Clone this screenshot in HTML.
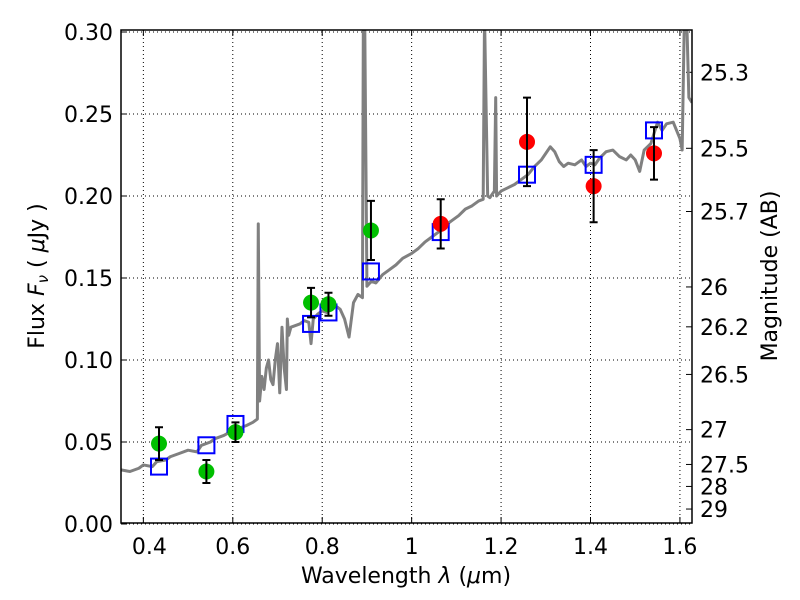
<!DOCTYPE html>
<html><head><meta charset="utf-8"><style>
body{margin:0;background:#fff;}
svg{display:block;font-family:"DejaVu Sans","Liberation Sans",sans-serif;}
</style></head><body>
<svg id="c" width="800" height="600"></svg>
<script>
const xTicks=[0.4,0.6,0.8,1.0,1.2,1.4,1.6];
const xTickLabels=["0.4","0.6","0.8","1","1.2","1.4","1.6"];
const yTicks=[0,0.05,0.1,0.15,0.2,0.25,0.3];
const yTickLabels=["0.00","0.05","0.10","0.15","0.20","0.25","0.30"];
const magTicks=[25.3,25.5,25.7,26,26.2,26.5,27,27.5,28,29];
const magLabels=["25.3","25.5","25.7","26","26.2","26.5","27","27.5","28","29"];
const obsWave=[0.435,0.541,0.606,0.775,0.814,0.909,1.065,1.258,1.407,1.542];
const obsFlux=[0.049,0.032,0.056,0.135,0.134,0.179,0.183,0.233,0.206,0.226];
const obsErr=[0.010,0.007,0.006,0.009,0.007,0.018,0.015,0.027,0.022,0.016];
const obsColor=["green","green","green","green","green","green","red","red","red","red"];
const modelFlux=[0.035,0.048,0.061,0.122,0.129,0.154,0.178,0.213,0.219,0.240];
const specWave=[0.35,0.37,0.39,0.4,0.42,0.43,0.45,0.46,0.48,0.5,0.52,0.53,0.55,0.56,0.58,0.6,0.62,0.63,0.645,0.655,0.657,0.66,0.665,0.67,0.675,0.68,0.685,0.69,0.695,0.7,0.705,0.71,0.715,0.72,0.722,0.725,0.73,0.74,0.75,0.76,0.77,0.775,0.78,0.79,0.8,0.81,0.82,0.83,0.84,0.85,0.86,0.87,0.88,0.89,0.892,0.895,0.9,0.91,0.92,0.935,0.95,0.965,0.98,1.0,1.015,1.03,1.045,1.06,1.075,1.09,1.105,1.12,1.135,1.15,1.16,1.163,1.17,1.175,1.185,1.188,1.19,1.2,1.215,1.23,1.245,1.26,1.275,1.29,1.3,1.31,1.32,1.33,1.34,1.35,1.365,1.38,1.39,1.4,1.41,1.42,1.435,1.45,1.465,1.48,1.49,1.5,1.51,1.52,1.535,1.55,1.56,1.57,1.585,1.6,1.605,1.61,1.615,1.62,1.627];
const specFlux=[0.033,0.032,0.034,0.036,0.035,0.038,0.039,0.041,0.043,0.045,0.044,0.048,0.050,0.052,0.054,0.057,0.059,0.060,0.062,0.064,0.183,0.075,0.09,0.082,0.095,0.10,0.088,0.085,0.10,0.11,0.08,0.12,0.095,0.082,0.125,0.115,0.12,0.121,0.122,0.124,0.123,0.110,0.125,0.128,0.130,0.129,0.134,0.133,0.131,0.125,0.114,0.135,0.14,0.138,0.31,0.31,0.145,0.148,0.147,0.152,0.155,0.158,0.162,0.165,0.168,0.172,0.175,0.178,0.182,0.185,0.188,0.192,0.194,0.197,0.198,0.31,0.20,0.199,0.203,0.26,0.2,0.203,0.205,0.207,0.210,0.213,0.218,0.222,0.226,0.230,0.227,0.221,0.218,0.220,0.219,0.222,0.218,0.220,0.219,0.223,0.227,0.228,0.224,0.222,0.225,0.222,0.215,0.228,0.232,0.245,0.24,0.244,0.245,0.235,0.228,0.31,0.31,0.26,0.257];
const L=121,R=692,T=30,B=523;
const x0=0.35,x1=1.627;
function xs(v){return L+(v-x0)/(x1-x0)*(R-L);}
function ys(v){return 524-v*1640;}
function mag2flux(m){return Math.pow(10,(23.9-m)/2.5);}
const svg=document.getElementById('c');
const NS='http://www.w3.org/2000/svg';
function el(t,a,p){const e=document.createElementNS(NS,t);for(const k in a)e.setAttribute(k,a[k]);(p||svg).appendChild(e);return e;}
const clip=el('clipPath',{id:'pc'});el('rect',{x:L,y:T,width:R-L,height:B-T},clip);
const FS=22;
xTicks.forEach((v,i)=>{
 const g=el('line',{x1:xs(v),x2:xs(v),y1:T,y2:B,stroke:'#000','stroke-width':1,'stroke-dasharray':'1,3'});
 
 
 el('line',{x1:xs(v),x2:xs(v),y1:B,y2:B-6,stroke:'#000'});
 el('line',{x1:xs(v),x2:xs(v),y1:T,y2:T+6,stroke:'#000'});
 const t=el('text',{x:xs(v)+(i==0?6:0),y:554,'font-size':FS,'text-anchor':'middle'});t.textContent=xTickLabels[i];
 
 
});
yTicks.forEach((v,i)=>{
 const g=el('line',{x1:L,x2:R,y1:ys(v),y2:ys(v),stroke:'#000','stroke-width':1,'stroke-dasharray':'1,3'});
 
 
 el('line',{x1:L,x2:L+6,y1:ys(v),y2:ys(v),stroke:'#000'});
 const t=el('text',{x:113,y:ys(v)+8,'font-size':FS,'text-anchor':'end'});t.textContent=yTickLabels[i];
 
 
});
magTicks.forEach((m,i)=>{
 const y=ys(mag2flux(m));
 el('line',{x1:R,x2:R-6,y1:y,y2:y,stroke:'#000'});
 const t=el('text',{x:700,y:y+8,'font-size':FS});t.textContent=magLabels[i];
 
 
});
const gp=el('g',{'clip-path':'url(#pc)'});
const sp=el('polyline',{points:specWave.map((w,i)=>xs(w)+','+ys(specFlux[i])).join(' '),fill:'none',stroke:'#808080','stroke-width':3,'stroke-linejoin':'round'},gp);


obsWave.forEach((w,i)=>{
 const r=el('rect',{x:xs(w)-8,y:ys(modelFlux[i])-8,width:16,height:16,fill:'none',stroke:'#0000ff','stroke-width':2},gp);
 
 
});
obsWave.forEach((w,i)=>{
 const x=xs(w),yl=ys(obsFlux[i]-obsErr[i]),yh=ys(obsFlux[i]+obsErr[i]);
 const c=el('circle',{cx:x,cy:ys(obsFlux[i]),r:8,fill:obsColor[i]=='green'?'#00bf00':'#ff0000'},gp);
 
 
 const e=el('path',{d:`M${x},${yl}V${yh}M${x-4},${yl}H${x+4}M${x-4},${yh}H${x+4}`,stroke:'#000','stroke-width':2,fill:'none'},gp);
 
 
});
const fr=el('rect',{x:L,y:T,width:R-L,height:B-T,fill:'none',stroke:'#000','stroke-width':1.5});


const xl=el('text',{x:406,y:583,'font-size':FS,'text-anchor':'middle'});
xl.innerHTML='Wavelength  <tspan font-style="italic">λ</tspan> (<tspan font-style="italic">μ</tspan>m)';


const yl=el('text',{transform:'translate(44,276) rotate(-90)','font-size':FS,'text-anchor':'middle'});
yl.innerHTML='Flux  <tspan font-style="italic">F</tspan><tspan font-style="italic" font-size="15" dy="4">ν</tspan><tspan dy="-4">  ( </tspan><tspan font-style="italic">μ</tspan>Jy )';


const rl=el('text',{transform:'translate(777,276) rotate(-90)','font-size':FS,'text-anchor':'middle'});
rl.textContent='Magnitude (AB)';


</script>
</body></html>
